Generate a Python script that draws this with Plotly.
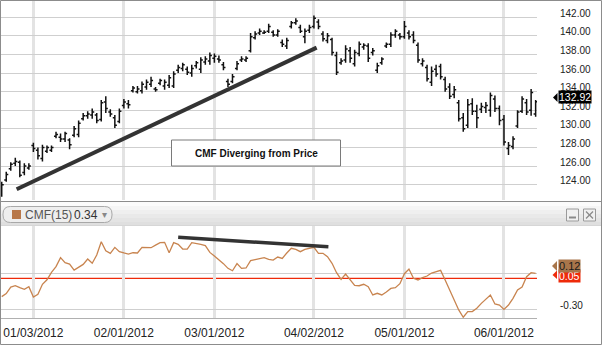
import pandas as pd
import plotly.graph_objects as go

# ---------------- data ----------------
holidays = ["2011-12-26", "2012-01-02", "2012-01-16", "2012-02-20", "2012-04-06", "2012-05-28"]
dates = [d.strftime("%Y-%m-%d") for d in pd.bdate_range("2011-12-21", "2012-06-12")
         if d.strftime("%Y-%m-%d") not in holidays]

highs = [124.3, 125.4, 126.4, 126.9, 126.6, 126.3, 126.3,
         128.5, 128.0, 128.3, 128.2, 128.2, 129.7, 129.5, 129.7, 129.0, 130.3,
         130.9, 131.7, 131.9, 132.2, 131.7, 133.1, 133.5, 132.1, 131.5, 132.2,
         133.2, 133.1, 134.6, 134.6, 135.1, 135.3, 135.6, 134.5, 135.4, 135.3,
         135.8, 136.2, 136.9, 137.1, 136.7, 136.9, 137.3, 137.7, 137.8, 138.2,
         138.1, 137.9, 137.2, 135.4, 135.9, 137.3, 137.8, 137.8, 140.3, 140.5,
         140.8, 140.6, 141.3, 140.6, 140.7, 139.6, 139.8, 141.6, 141.9,
         141.2, 140.8, 141.2,
         142.2, 141.8, 140.5, 140.3, 139.8, 138.3, 137.6, 139.0, 138.8, 138.5,
         139.4, 139.2, 139.2, 138.7, 137.1, 137.7, 139.3, 140.4, 140.7, 140.3,
         141.6, 140.6, 140.5, 139.3, 137.6, 136.9, 136.7, 136.9, 137.0, 135.6,
         134.9, 134.6, 133.1, 131.7, 133.2, 133.3, 132.6, 132.8, 132.9, 133.9,
         133.6, 132.5,
         131.5, 128.6, 129.2, 132.0, 133.5, 133.2, 134.3, 133.1]
lows = [122.7, 124.3, 125.5, 126.0, 124.8, 125.0, 125.6,
        127.5, 126.7, 126.5, 127.4, 127.5, 129.0, 128.6, 128.6, 127.8, 129.1,
        129.1, 130.9, 131.1, 131.1, 130.6, 130.8, 131.7, 131.3, 130.1, 130.6,
        132.2, 132.2, 133.9, 133.8, 133.8, 134.2, 134.5, 134.0, 134.7, 134.2,
        134.4, 134.4, 136.0, 136.2, 135.8, 135.6, 136.5, 136.0, 136.9, 136.9,
        137.1, 137.1, 136.3, 134.5, 134.9, 136.3, 137.2, 137.2, 138.2, 139.6,
        140.1, 140.2, 140.3, 139.9, 139.9, 138.8, 138.6, 140.8, 141.2,
        140.3, 139.2, 140.3,
        140.8, 140.7, 139.4, 139.2, 137.9, 135.8, 136.9, 137.1, 137.1, 136.7,
        137.8, 138.5, 137.2, 137.9, 136.0, 136.9, 138.7, 138.8, 139.8, 139.6,
        139.7, 139.6, 139.2, 137.1, 136.7, 135.1, 134.6, 135.6, 135.3, 134.0,
        133.2, 133.3, 130.8, 129.7, 130.1, 131.5, 130.1, 131.7, 131.7, 131.3,
        131.8, 130.4,
        128.2, 127.2, 127.8, 130.1, 131.7, 131.5, 131.4, 131.3]
opens = [122.9, 124.5, 125.7, 126.3, 126.4, 125.3, 125.8,
         128.2, 127.7, 126.8, 127.6, 127.7, 129.2, 129.1, 128.9, 128.8, 129.3,
         129.4, 131.1, 131.4, 131.5, 131.5, 131.0, 132.9, 131.8, 131.2, 130.8,
         132.5, 132.7, 134.1, 134.0, 134.1, 134.5, 134.8, 134.3, 134.9, 134.6,
         134.7, 134.6, 136.3, 136.5, 136.4, 136.0, 136.8, 136.4, 137.2, 137.3,
         137.6, 137.5, 136.9, 135.1, 135.1, 136.5, 137.4, 137.4, 138.4, 139.8,
         140.3, 140.3, 140.5, 140.4, 140.1, 139.3, 138.9, 141.0, 141.4,
         140.9, 139.9, 140.6,
         141.0, 141.5, 140.2, 139.5, 139.6, 137.9, 137.1, 137.4, 138.4, 137.0,
         138.1, 138.8, 138.9, 138.2, 136.3, 137.1, 138.9, 139.1, 140.1, 140.1,
         139.9, 140.3, 140.1, 139.0, 137.0, 136.6, 135.0, 136.4, 136.7, 135.3,
         134.5, 133.7, 132.8, 131.2, 130.4, 132.7, 131.9, 132.1, 132.3, 132.0,
         133.2, 132.2,
         131.0, 127.9, 128.1, 130.3, 131.9, 132.8, 132.0, 131.6]
closes = [124.0, 125.1, 126.2, 126.5, 125.0, 126.0, 126.0,
          127.9, 127.1, 128.0, 128.0, 128.0, 129.4, 128.9, 129.5, 128.3, 130.0,
          130.6, 131.4, 131.6, 131.8, 130.9, 132.8, 132.2, 131.6, 130.4, 131.9,
          132.9, 132.6, 134.4, 134.3, 134.8, 135.0, 135.2, 134.2, 135.2, 135.0,
          135.5, 135.9, 136.6, 136.9, 136.1, 136.5, 137.1, 137.4, 137.5, 137.9,
          137.8, 137.4, 136.6, 134.8, 135.6, 137.0, 137.5, 137.6, 139.9, 140.2,
          140.5, 140.4, 141.0, 140.1, 140.5, 139.1, 139.5, 141.4, 141.6,
          140.5, 140.5, 140.9,
          141.9, 141.0, 139.7, 140.0, 138.2, 136.1, 137.3, 138.6, 137.6, 138.2,
          139.1, 139.0, 137.6, 138.4, 136.8, 137.5, 139.1, 140.1, 140.5, 139.9,
          141.0, 139.9, 139.5, 137.4, 137.3, 135.4, 136.2, 135.9, 135.6, 134.3,
          133.5, 134.2, 131.1, 130.0, 132.6, 131.9, 131.2, 132.4, 132.5, 133.6,
          132.2, 130.9,
          128.6, 128.2, 128.9, 131.8, 133.2, 131.8, 133.9, 132.92]
cmf = [-0.197, -0.172, -0.117, -0.106, -0.122, -0.136, -0.114,
       -0.200, -0.178, -0.094, -0.056, 0.006, 0.053, 0.128, 0.086, 0.075, 0.025,
       0.047, 0.072, 0.117, 0.081, 0.150, 0.261, 0.186, 0.164, 0.214, 0.178,
       0.167, 0.158, 0.169, 0.167, 0.214, 0.211, 0.211, 0.233, 0.253, 0.256,
       0.169, 0.253, 0.239, 0.200, 0.200, 0.253, 0.247, 0.239, 0.228, 0.172,
       0.142, 0.111, 0.078, 0.039, 0.019, 0.078, 0.039, 0.042, 0.103, 0.111,
       0.119, 0.128, 0.114, 0.108, 0.133, 0.122, 0.167, 0.206, 0.197,
       0.178, 0.197, 0.206,
       0.214, 0.164, 0.164, 0.136, 0.081, 0.003, -0.053, -0.008, -0.058, -0.103,
       -0.106, -0.094, -0.114, -0.183, -0.169, -0.183, -0.158, -0.128, -0.122, -0.089,
       -0.006, 0.033, -0.044, -0.058, -0.039, -0.025, 0.000, 0.011, 0.022, -0.058,
       -0.142, -0.225, -0.308, -0.369, -0.322, -0.322, -0.294, -0.253, -0.217, -0.183,
       -0.258, -0.267,
       -0.303, -0.267, -0.211, -0.142, -0.117, -0.031, 0.003, -0.003]

date_ticks = ["2012-01-03", "2012-02-01", "2012-03-01", "2012-04-02", "2012-05-01", "2012-06-01"]
date_labels = ["01/03/2012", "02/01/2012", "03/01/2012", "04/02/2012", "05/01/2012", "06/01/2012"]
price_ticks = [124, 126, 128, 130, 132, 134, 136, 138, 140, 142]
price_labels = ["124.00", "126.00", "128.00", "130.00", "132.00", "134.00", "136.00", "138.00", "140.00", "142.00"]
cmf_ticks = [0.0, -0.30]
cmf_labels = ["", "-0.30"]
cmf_ref_level = -0.044
price_trend_x = [3.3, 69.6]
price_trend_y = [123.5, 138.73]
cmf_trend_x = [39.0, 72.2]
cmf_trend_y = [0.2975, 0.219]

assert len(dates) == len(highs) == len(lows) == len(opens) == len(closes) == len(cmf)

# ---------------- figure ----------------
W, H = 602, 345
FONT = "Arial, Liberation Sans, sans-serif"


def px(x):
    return x / W


def py(y):
    return 1 - y / H


def rrect_path(x0, y0, x1, y1, r):
    pts = [
        ("M", [(x0 + r, y0)]), ("L", [(x1 - r, y0)]), ("Q", [(x1, y0), (x1, y0 + r)]),
        ("L", [(x1, y1 - r)]), ("Q", [(x1, y1), (x1 - r, y1)]), ("L", [(x0 + r, y1)]),
        ("Q", [(x0, y1), (x0, y1 - r)]), ("L", [(x0, y0 + r)]), ("Q", [(x0, y0), (x0 + r, y0)]),
    ]
    s = ""
    for cmd, ps in pts:
        s += cmd + " ".join(f"{px(a):.5f},{py(b):.5f}" for a, b in ps) + " "
    return s + "Z"


fig = go.Figure()
fig.add_trace(go.Ohlc(
    x=dates, open=opens, high=highs, low=lows, close=closes,
    increasing=dict(line=dict(color="#111111", width=1.5)),
    decreasing=dict(line=dict(color="#111111", width=1.5)),
    tickwidth=0.45, xaxis="x", yaxis="y", showlegend=False, hoverinfo="skip"))
fig.add_trace(go.Scatter(
    x=dates, y=cmf, mode="lines", line=dict(color="#c8844f", width=1.3),
    xaxis="x2", yaxis="y2", showlegend=False, hoverinfo="skip"))

XDOM = [0, 537 / W]
n = len(dates)
xrange_ = [-0.38, n - 1 + 0.3]

shapes = []
# CMF header gradient band
band_cols = ["#fbfbfb", "#f5f5f5", "#efefef", "#e9e9e9", "#e4e4e4", "#dfdfdf"]
for k, c in enumerate(band_cols):
    shapes.append(dict(type="rect", xref="paper", yref="paper", x0=0, x1=1,
                       y0=py(202 + 4 * (k + 1)), y1=py(202 + 4 * k),
                       fillcolor=c, line=dict(width=0), layer="below"))
shapes.append(dict(type="line", xref="paper", yref="paper", x0=0, x1=1,
                   y0=py(201.5), y1=py(201.5), line=dict(color="#8c8c8c", width=1)))
shapes.append(dict(type="line", xref="paper", yref="paper", x0=0, x1=1,
                   y0=py(225.5), y1=py(225.5), line=dict(color="#d6d6d6", width=1)))
# pill
shapes.append(dict(type="path", xref="paper", yref="paper",
                   path=rrect_path(3, 206.5, 112, 222.5, 7.5),
                   fillcolor="#eeeeee", line=dict(color="#a8a8a8", width=1)))
shapes.append(dict(type="rect", xref="paper", yref="paper", x0=px(12), x1=px(21),
                   y0=py(219), y1=py(210), fillcolor="#b8784a", line=dict(width=0)))
# window buttons
for bx0, bx1 in [(566.5, 578.5), (583.5, 595.5)]:
    shapes.append(dict(type="rect", xref="paper", yref="paper", x0=px(bx0), x1=px(bx1),
                       y0=py(221), y1=py(209), fillcolor="#f0f0f0",
                       line=dict(color="#9a9a9a", width=1)))
shapes.append(dict(type="line", xref="paper", yref="paper", x0=px(569), x1=px(576),
                   y0=py(217.5), y1=py(217.5), line=dict(color="#8a8a8a", width=2)))
shapes.append(dict(type="line", xref="paper", yref="paper", x0=px(586), x1=px(593),
                   y0=py(211.5), y1=py(218.5), line=dict(color="#8a8a8a", width=1.3)))
shapes.append(dict(type="line", xref="paper", yref="paper", x0=px(586), x1=px(593),
                   y0=py(218.5), y1=py(211.5), line=dict(color="#8a8a8a", width=1.3)))
# annotation box
shapes.append(dict(type="rect", xref="paper", yref="paper", x0=px(171.5), x1=px(340.5),
                   y0=py(166), y1=py(140), fillcolor="white",
                   line=dict(color="#7a7a7a", width=1)))
# trend lines
shapes.append(dict(type="line", xref="x", yref="y",
                   x0=price_trend_x[0], x1=price_trend_x[1],
                   y0=price_trend_y[0], y1=price_trend_y[1],
                   line=dict(color="#333333", width=4)))
shapes.append(dict(type="line", xref="x2", yref="y2",
                   x0=cmf_trend_x[0], x1=cmf_trend_x[1],
                   y0=cmf_trend_y[0], y1=cmf_trend_y[1],
                   line=dict(color="#333333", width=3.5)))
# red reference line
shapes.append(dict(type="line", xref="x2 domain", yref="y2", x0=0, x1=1,
                   y0=cmf_ref_level, y1=cmf_ref_level,
                   line=dict(color="#ee2a0a", width=1.3), layer="below"))
# badge arrows
shapes.append(dict(type="path", xref="paper", yref="paper",
                   path=f"M{px(553)},{py(97.5)} L{px(557.5)},{py(93)} L{px(557.5)},{py(102)} Z",
                   fillcolor="#000000", line=dict(width=0)))
shapes.append(dict(type="path", xref="paper", yref="paper",
                   path=f"M{px(552.5)},{py(275)} L{px(557)},{py(270.5)} L{px(557)},{py(279)} Z",
                   fillcolor="#ee2a0a", line=dict(width=0)))
shapes.append(dict(type="path", xref="paper", yref="paper",
                   path=f"M{px(552)},{py(266)} L{px(557)},{py(261)} L{px(557)},{py(271)} Z",
                   fillcolor="#a8754a", line=dict(width=0)))
# outer border
shapes.append(dict(type="rect", xref="paper", yref="paper", x0=px(0.5), x1=px(601.5),
                   y0=py(344.5), y1=py(0.5), line=dict(color="#8c8c8c", width=1)))

annotations = [
    dict(xref="paper", yref="paper", x=px(256), y=py(153), xanchor="center", yanchor="middle",
         text="<b>CMF Diverging from Price</b>",
         showarrow=False, font=dict(family=FONT, size=10, color="#111111")),
    dict(xref="paper", yref="paper", x=px(23), y=py(214.5), xanchor="left", yanchor="middle",
         text="CMF(15)", showarrow=False, font=dict(family=FONT, size=12, color="#555555")),
    dict(xref="paper", yref="paper", x=px(71.5), y=py(214.5), xanchor="left", yanchor="middle",
         text="0.34", showarrow=False, font=dict(family=FONT, size=12, color="#333333")),
    dict(xref="paper", yref="paper", x=px(104.5), y=py(214), xanchor="center", yanchor="middle",
         text="▾", showarrow=False, font=dict(family=FONT, size=10, color="#888888")),
    dict(xref="paper", yref="y", x=px(574.5), y=closes[-1], yshift=4.5,
         xanchor="center", yanchor="middle",
         text=f"{closes[-1]:.2f}", showarrow=False, bgcolor="#000000", borderpad=0,
         font=dict(family=FONT, size=10.5, color="#ffffff")),
    dict(xref="paper", yref="paper", x=px(569), y=py(275.5), xanchor="center", yanchor="middle",
         text="0.05", showarrow=False,
         bgcolor="#ee2a0a", borderpad=0, font=dict(family=FONT, size=10.5, color="#ffffff")),
    dict(xref="paper", yref="paper", x=px(569), y=py(266), xanchor="center", yanchor="middle",
         text="0.12", showarrow=False,
         bgcolor="#a8754a", borderpad=0, font=dict(family=FONT, size=11, color="#1a1a1a")),
]

fig.update_layout(
    width=W, height=H, autosize=False,
    margin=dict(l=0, r=0, t=0, b=0),
    paper_bgcolor="white", plot_bgcolor="white",
    font=dict(family=FONT, color="#222222"),
    showlegend=False, hovermode=False,
    shapes=shapes, annotations=annotations,
    xaxis=dict(domain=XDOM, anchor="y", type="category", range=xrange_,
               tickvals=date_ticks, showticklabels=False, ticks="",
               showgrid=True, gridcolor="#e3e3e3", gridwidth=2.5,
               zeroline=False, showline=False, rangeslider=dict(visible=False)),
    xaxis2=dict(domain=XDOM, anchor="y2", type="category", range=xrange_, matches="x",
                tickvals=date_ticks, ticktext=date_labels, ticks="",
                tickfont=dict(family=FONT, size=12, color="#222222"),
                ticklabelstandoff=4,
                showgrid=True, gridcolor="#e3e3e3", gridwidth=2.5,
                zeroline=False, showline=True, linecolor="#b0b0b0", linewidth=1),
    yaxis=dict(domain=[1 - 200 / H, 1 - 1 / H], anchor="x", side="right",
               range=[122.35, 143.75], tickvals=price_ticks, ticktext=price_labels,
               ticks="", ticklabelshift=-4, ticklabelstandoff=22,
               tickfont=dict(family=FONT, size=10, color="#222222"),
               showgrid=True, gridcolor="#cfcfcf", gridwidth=1, zeroline=False, showline=False),
    yaxis2=dict(domain=[1 - 318 / H, 1 - 226 / H], anchor="x2", side="right",
                range=[-0.375, 0.392], tickvals=cmf_ticks, ticktext=cmf_labels,
                ticks="", ticklabelshift=-4, ticklabelstandoff=22,
                tickfont=dict(family=FONT, size=10, color="#222222"),
                showgrid=True, gridcolor="#cfcfcf", gridwidth=1, zeroline=False, showline=False),
)

fig.write_html("out.html")
